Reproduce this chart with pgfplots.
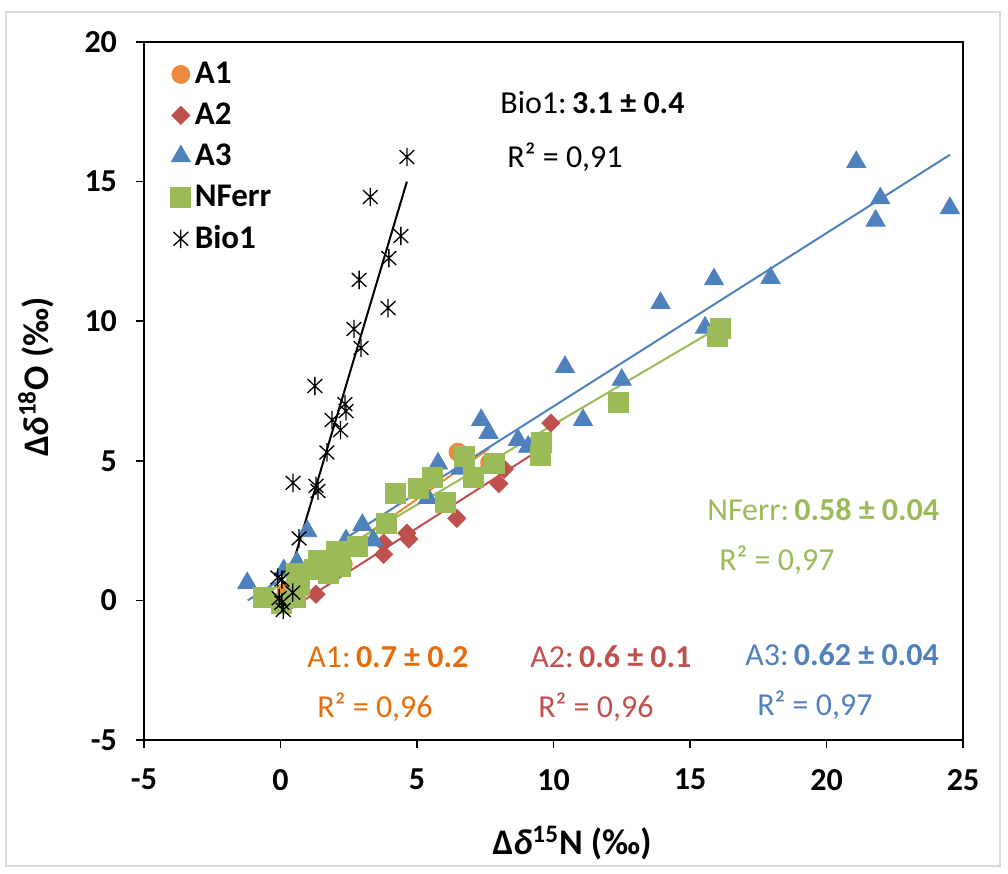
\documentclass[border=0pt]{standalone}
\usepackage{fontspec}
\setmainfont{Carlito}
\usepackage{pgfplots}
\pgfplotsset{compat=1.18}
\definecolor{cAone}{HTML}{EA8A3E}
\definecolor{tAone}{HTML}{E46C0A}
\definecolor{cAtwo}{HTML}{C0504D}
\definecolor{cAthree}{HTML}{4F81BD}
\definecolor{cNF}{HTML}{9BBB59}
\definecolor{frame}{HTML}{D9D9D9}
\newcommand{\ann}{\fontsize{16bp}{19bp}\selectfont}
% Excel-like star: vertical bar plus an X
\pgfdeclareplotmark{xstar}{%
  \pgfpathmoveto{\pgfqpoint{0pt}{-\pgfplotmarksize}}%
  \pgfpathlineto{\pgfqpoint{0pt}{\pgfplotmarksize}}%
  \pgfpathmoveto{\pgfqpoint{-.8\pgfplotmarksize}{-.75\pgfplotmarksize}}%
  \pgfpathlineto{\pgfqpoint{.8\pgfplotmarksize}{.75\pgfplotmarksize}}%
  \pgfpathmoveto{\pgfqpoint{-.8\pgfplotmarksize}{.75\pgfplotmarksize}}%
  \pgfpathlineto{\pgfqpoint{.8\pgfplotmarksize}{-.75\pgfplotmarksize}}%
  \pgfusepathqstroke}

\begin{document}
\begin{tikzpicture}
\begin{axis}[
  scale only axis, width=409.5bp, height=349bp,
  xmin=-5, xmax=25, ymin=-5, ymax=20,
  xtick={-5,0,5,10,15,20,25}, ytick={-5,0,5,10,15,20},
  xticklabels={-5,0,5,10,15,20,25}, yticklabels={-5,0,5,10,15,20},
  tick align=outside, tick pos=left, major tick length=4bp,
  axis line style={line width=1bp}, tick style={line width=0.8bp, black},
  ticklabel style={font=\fontsize{16bp}{19bp}\selectfont\bfseries},
  xticklabel style={yshift=-7bp}, yticklabel style={xshift=-6bp},
  xlabel={Δ\textit{δ}\textsuperscript{15}N (‰)},
  ylabel={Δ\textit{δ}\textsuperscript{18}O (‰)},
  label style={font=\fontsize{18bp}{21bp}\selectfont\bfseries},
  xlabel style={at={(axis description cs:0.5226,-0.1476)}, anchor=center},
  ylabel style={at={(axis description cs:-0.1319,0.52)}, anchor=center},
  legend style={draw=none, fill=none, at={(axis description cs:0.025,0.983)}, anchor=north west,
    font=\fontsize{16.5bp}{19bp}\selectfont\bfseries, row sep=4.2bp},
  legend cell align=left,
  clip=false,
]
% A1
\addplot[only marks, mark=*, mark size=4.5bp, color=cAone] coordinates {
 (6.50,5.31) (7.66,4.93) (0.2,0.3) (1.5,1.4) (2.3,1.3) (3.9,2.8) (5.1,4.0)
};
\addlegendentry{A1}
% A2
\addplot[only marks, mark=square*, mark options={rotate=45}, mark size=3.2bp, color=cAtwo] coordinates {
 (1.30,0.22) (3.78,1.65) (3.78,2.05) (4.63,2.41) (4.70,2.20) (6.46,2.94)
 (8.00,4.18) (8.20,4.70) (9.90,6.35)
};
\addlegendentry{A2}
% A3
\addplot[only marks, mark=triangle*, mark size=5.5bp, color=cAthree] coordinates {
 (-1.22,0.62) (0.12,1.08) (0.60,1.36) (0.98,2.48) (2.40,2.15) (3.00,2.70)
 (3.40,2.15) (5.40,3.67) (5.77,4.90) (6.60,4.72) (7.35,6.46) (7.62,6.00)
 (8.70,5.75) (9.07,5.50) (10.42,8.36) (11.08,6.46) (12.50,7.90) (13.92,10.65)
 (15.55,9.77) (15.88,11.50) (17.95,11.55) (21.09,15.70) (21.97,14.40)
 (21.80,13.60) (24.52,14.05)
};
\addlegendentry{A3}
% NFerr
\addplot[only marks, mark=square*, mark size=5bp, color=cNF] coordinates {
 (-0.63,0.09) (0.05,-0.10) (0.53,0.12) (0.60,0.98) (0.70,0.55) (1.26,1.10)
 (1.40,1.45) (1.74,0.98) (2.04,1.75) (2.18,1.21) (2.80,1.93) (3.87,2.77)
 (4.20,3.84) (5.05,4.00) (5.55,4.42) (6.03,3.50) (6.75,5.17) (7.05,4.40)
 (7.82,4.91) (9.53,5.20) (9.57,5.67) (12.37,7.10) (16.00,9.47) (16.10,9.75)
};
\addlegendentry{NFerr}
% Bio1
\addplot[only marks, mark=xstar, mark size=4.6bp, mark options={line width=0.65bp}, color=black] coordinates {
 (4.63,15.88) (3.29,14.45) (4.41,13.05) (3.97,12.26) (2.88,11.48) (3.94,10.47)
 (2.69,9.72) (2.95,9.04) (1.26,7.68) (2.36,7.03) (2.40,6.78) (1.89,6.46)
 (2.20,6.10) (1.70,5.30) (0.46,4.21) (1.30,4.10) (1.37,3.92) (0.68,2.22)
 (-0.10,0.82) (0.05,0.75) (-0.05,0.08) (0.05,-0.08) (0.10,-0.34) (0.45,0.28)
};
\addlegendentry{Bio1}
% trend lines
\addplot[forget plot, color=cAone!85!orange, line width=1bp] coordinates {(0.0,0.20) (7.66,5.45)};
\addplot[forget plot, color=cAtwo, line width=1bp] coordinates {(0.10,-0.47) (9.90,5.65)};
\addplot[forget plot, color=cAthree, line width=1bp] coordinates {(-1.20,0.00) (24.52,15.96)};
\addplot[forget plot, color=cNF, line width=1bp] coordinates {(-0.63,0.19) (16.10,9.80)};
\addplot[forget plot, color=black, line width=1bp] coordinates {(-0.10,-0.50) (4.63,15.00)};
% annotations
\node[anchor=west, inner sep=0pt, font=\ann] at (axis cs:8.04,17.82) {Bio1:\,\textbf{3.1 ± 0.4}};
\node[anchor=west, inner sep=0pt, font=\ann] at (axis cs:8.30,15.88) {R² = 0,91};
\node[anchor=west, inner sep=0pt, font=\ann, text=cNF] at (axis cs:15.62,3.24) {NFerr:\,\textbf{0.58 ± 0.04}};
\node[anchor=west, inner sep=0pt, font=\ann, text=cNF] at (axis cs:16.06,1.45) {R² = 0,97};
\node[anchor=west, inner sep=0pt, font=\ann, text=tAone] at (axis cs:0.97,-2.03) {A1:\,\textbf{0.7 ± 0.2}};
\node[anchor=west, inner sep=0pt, font=\ann, text=tAone] at (axis cs:1.34,-3.82) {R² = 0,96};
\node[anchor=west, inner sep=0pt, font=\ann, text=cAtwo] at (axis cs:9.14,-2.03) {A2:\,\textbf{0.6 ± 0.1}};
\node[anchor=west, inner sep=0pt, font=\ann, text=cAtwo] at (axis cs:9.43,-3.82) {R² = 0,96};
\node[anchor=west, inner sep=0pt, font=\ann, text=cAthree] at (axis cs:17.01,-1.96) {A3:\,\textbf{0.62 ± 0.04}};
\node[anchor=west, inner sep=0pt, font=\ann, text=cAthree] at (axis cs:17.45,-3.75) {R² = 0,97};
\end{axis}
\pgfresetboundingbox
\draw[frame, line width=0.75bp] ([xshift=-69bp,yshift=-63bp]current axis.south west) rectangle ([xshift=18.5bp,yshift=15bp]current axis.north east);
\path[use as bounding box] ([xshift=-72bp,yshift=-67bp]current axis.south west) rectangle ([xshift=22.5bp,yshift=21bp]current axis.north east);
\end{tikzpicture}
\end{document}
